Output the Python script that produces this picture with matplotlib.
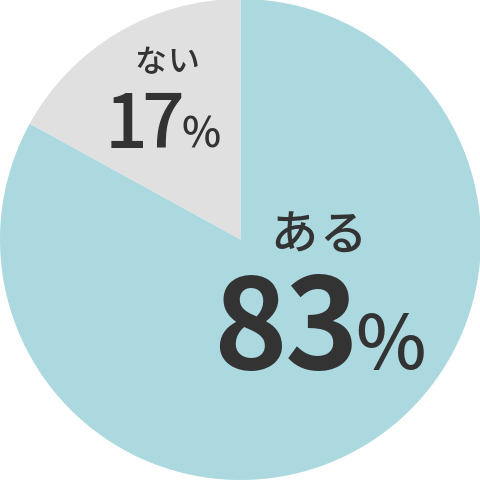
import matplotlib.pyplot as plt

labels = ['ある', 'ない']
values = [83, 17]
colors = ['#acd9e0', '#e0e0e0']

plt.rcParams['font.family'] = ['Noto Sans CJK JP', 'DejaVu Sans']
TEXT = '#333333'

fig = plt.figure(figsize=(4.81, 4.81), dpi=100)
ax = fig.add_axes([0, 0, 1, 1])
ax.pie(values, colors=colors, startangle=90, counterclock=False,
       radius=1, wedgeprops=dict(linewidth=0))
ax.set_xlim(-1, 1)
ax.set_ylim(-1, 1)
ax.set_aspect('equal')
ax.axis('off')


def px(x, y):
    # pixel position in the 481x481 picture -> data coords
    return (x - 240.5) / 240.5, (240.5 - y) / 240.5


def put(x, y, s, size, weight='medium'):
    ax.text(*px(x, y), s, fontsize=size, fontweight=weight, color=TEXT,
            ha='center', va='baseline')


def put_spaced(xs, y, s, size, weight='medium'):
    # characters are spaced out a bit in the original
    for x, ch in zip(xs, s):
        put(x, y, ch, size, weight)


# big slice
put_spaced([294, 343], 250, labels[0], 34)
put_spaced([250, 322], 369, str(values[0]), 90, weight='bold')
put(391, 369, '%', 54)

# small slice
put_spaced([150, 183], 72, labels[1], 23)
put_spaced([126, 163], 148, str(values[1]), 54)
put(201, 148, '%', 30)

fig.savefig('out.png', dpi=100)
